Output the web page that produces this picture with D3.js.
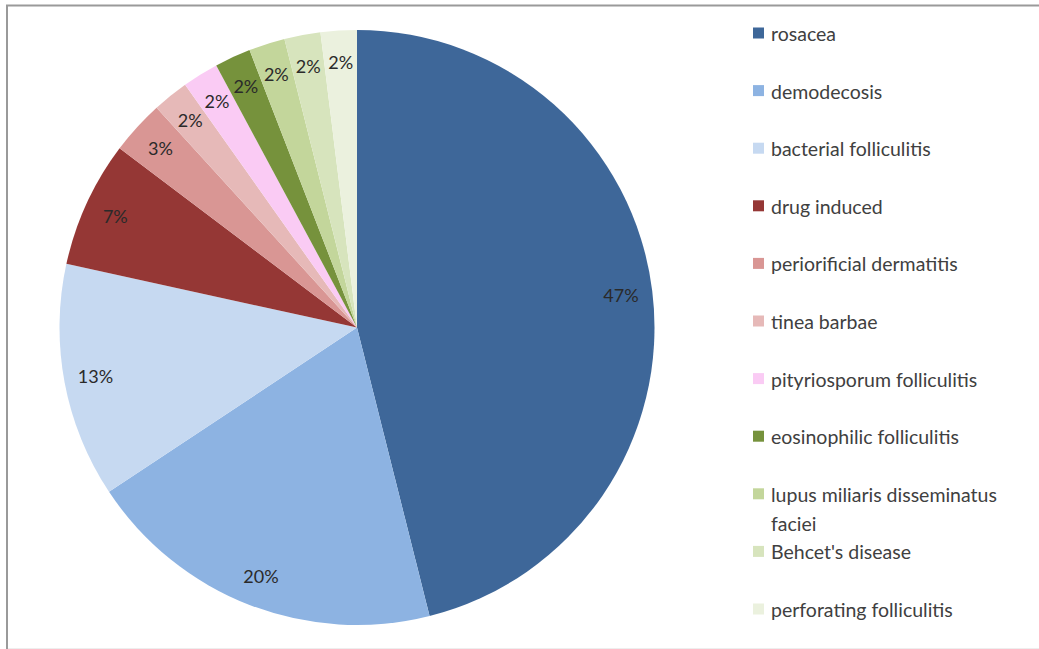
<!DOCTYPE html>
<html>
<head>
<meta charset="utf-8">
<script src="https://cdn.jsdelivr.net/npm/d3@7"></script>
<style>
  html, body { margin: 0; padding: 0; background: #fff; }
  svg { display: block; }
</style>
</head>
<body>
<svg id="chart" width="1039" height="649"></svg>
<script>
const categories = [
  "rosacea", "demodecosis", "bacterial folliculitis", "drug induced",
  "periorificial dermatitis", "tinea barbae", "pityriosporum folliculitis",
  "eosinophilic folliculitis", "lupus miliaris disseminatus faciei",
  "Behcet's disease", "perforating folliculitis"
];
const values = [47, 20, 13, 7, 3, 2, 2, 2, 2, 2, 2];
const labels = ["47%", "20%", "13%", "7%", "3%", "2%", "2%", "2%", "2%", "2%", "2%"];
const legendLines = [
  ["rosacea"], ["demodecosis"], ["bacterial folliculitis"], ["drug induced"],
  ["periorificial dermatitis"], ["tinea barbae"], ["pityriosporum folliculitis"],
  ["eosinophilic folliculitis"], ["lupus miliaris disseminatus", "faciei"],
  ["Behcet's disease"], ["perforating folliculitis"]
];
const colors = [
  "#3e6799", "#8db3e2", "#c6d9f1", "#953735", "#d99694", "#e6b9b8",
  "#facbf4", "#76923c", "#c3d69b", "#d7e4bd", "#ebf1de"
];

const svg = d3.select("#chart");

// frame
svg.append("line").attr("x1", 6).attr("x2", 1039).attr("y1", 5.5).attr("y2", 5.5)
  .attr("stroke", "#9a9a9a").attr("stroke-width", 2);
svg.append("line").attr("x1", 7).attr("x2", 7).attr("y1", 5).attr("y2", 649)
  .attr("stroke", "#9a9a9a").attr("stroke-width", 2);
svg.append("line").attr("x1", 8).attr("x2", 1039).attr("y1", 648.5).attr("y2", 648.5)
  .attr("stroke", "#eeeeee").attr("stroke-width", 1);

const cx = 357, cy = 327.5, R = 297.5;
const g = svg.append("g").attr("transform", `translate(${cx},${cy})`);

const pie = d3.pie().sort(null).value(d => d);
const arcs = pie(values);
const arc = d3.arc().innerRadius(0).outerRadius(R);
const labelArc = d3.arc().innerRadius(266).outerRadius(266);

g.selectAll("path.slice").data(arcs).enter().append("path")
  .attr("class", "slice")
  .attr("d", arc)
  .attr("fill", (d, i) => colors[i]);

g.selectAll("text.lbl").data(arcs).enter().append("text")
  .attr("class", "lbl")
  .attr("transform", d => `translate(${labelArc.centroid(d)})`)
  .attr("text-anchor", "middle")
  .attr("dominant-baseline", "central")
  .attr("font-family", "Lato, sans-serif")
  .attr("font-size", 18)
  .attr("fill", "#2a2a2a")
  .text((d, i) => labels[i]);

// legend
const ly = d3.scaleLinear().domain([0, categories.length - 1]).range([33, 609]);
const leg = svg.append("g");
categories.forEach((c, i) => {
  const y = ly(i);
  leg.append("rect").attr("x", 753).attr("y", y - 5.5).attr("width", 11).attr("height", 11)
    .attr("fill", colors[i]);
  const t = leg.append("text")
    .attr("x", 771).attr("y", y)
    .attr("dominant-baseline", "central")
    .attr("font-family", "Lato, sans-serif")
    .attr("font-size", 19.5)
    .attr("fill", "#404040");
  legendLines[i].forEach((line, j) => {
    t.append("tspan").attr("x", 771).attr("dy", j === 0 ? 0 : 29).text(line);
  });
});
</script>
</body>
</html>
